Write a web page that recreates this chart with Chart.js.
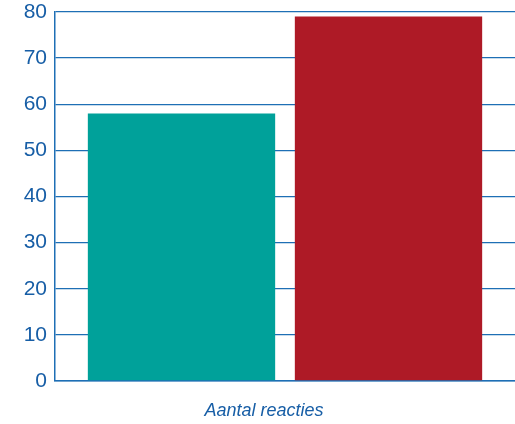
<!DOCTYPE html>
<html>
<head>
<meta charset="utf-8">
<script src="https://cdn.jsdelivr.net/npm/chart.js@4/dist/chart.umd.min.js"></script>
<style>
html,body{margin:0;padding:0;background:#fff;}
#wrap{width:515px;height:424px;position:relative;}
</style>
</head>
<body>
<div id="wrap"><canvas id="c" width="515" height="424"></canvas></div>
<script>
const categories = [""];
const seriesNames = ["Reeks 1", "Reeks 2"];
const seriesA = [58];
const seriesB = [79];
const yTicks = [0, 10, 20, 30, 40, 50, 60, 70, 80];
const xTitle = "Aantal reacties";

const blue = "#175ea6";
const gridBlue = "#1e6fb5";

const xTitlePlugin = {
  id: "xTitle",
  afterDraw(chart) {
    const ctx = chart.ctx;
    ctx.save();
    ctx.font = "italic 18px 'Liberation Sans', Arial, sans-serif";
    ctx.fillStyle = blue;
    ctx.textAlign = "center";
    ctx.textBaseline = "alphabetic";
    ctx.fillText(xTitle, 264, 416);
    ctx.restore();
  }
};

new Chart(document.getElementById("c"), {
  type: "bar",
  data: {
    labels: categories,
    datasets: [
      { label: seriesNames[0], data: seriesA, backgroundColor: "#00a19a", borderWidth: 0 },
      { label: seriesNames[1], data: seriesB, backgroundColor: "#ae1a26", borderWidth: 0 }
    ]
  },
  options: {
    responsive: false,
    animation: false,
    devicePixelRatio: 1,
    layout: { padding: { top: 12, bottom: 43, left: 0, right: 0 } },
    categoryPercentage: 0.9,
    barPercentage: 0.905,
    plugins: { legend: { display: false }, tooltip: { enabled: false } },
    scales: {
      x: {
        ticks: { display: false },
        grid: { display: false, drawTicks: false },
        border: { display: true, color: gridBlue, width: 1.5 }
      },
      y: {
        min: 0,
        max: 80,
        afterFit(scale) { scale.width = 55; scale.paddingTop = 0; scale.paddingBottom = 0; },
        afterBuildTicks(scale) { scale.ticks = yTicks.map(v => ({ value: v })); },
        ticks: {
          color: blue,
          padding: 8,
          font: { family: "'Liberation Sans', Arial, sans-serif", size: 21 }
        },
        grid: { color: gridBlue, lineWidth: 1.3, drawTicks: false },
        border: { display: true, color: gridBlue, width: 1.5 }
      }
    }
  },
  plugins: [xTitlePlugin]
});
</script>
</body>
</html>
